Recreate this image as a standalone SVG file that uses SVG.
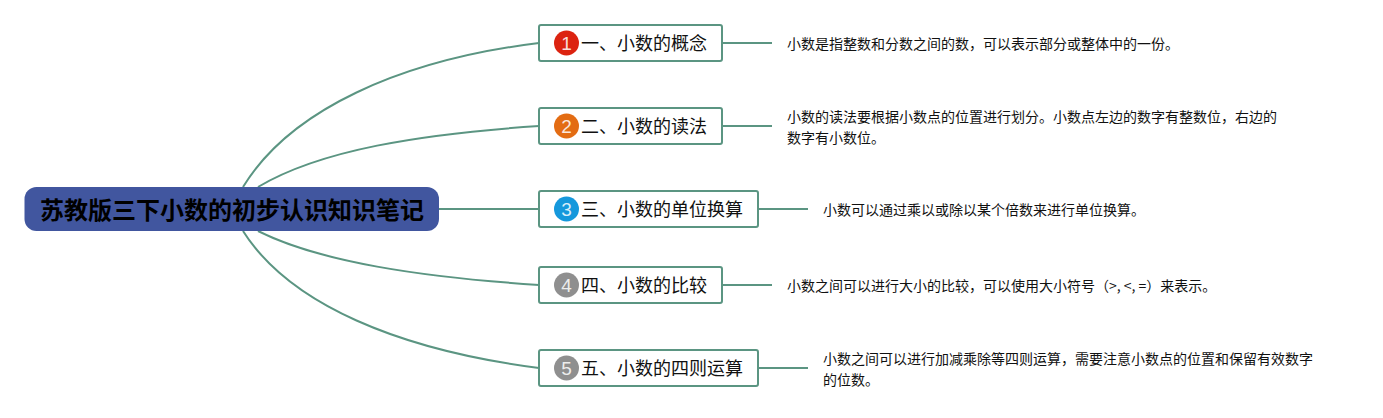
<svg xmlns="http://www.w3.org/2000/svg" width="1383" height="418" viewBox="0 0 1383 418">
<style>
text{font-family:"Noto Sans CJK SC","Liberation Sans",sans-serif;fill:#111}
.c{fill:none;stroke:#5b9582;stroke-width:2}
.b{fill:#fff;stroke:#5b9582;stroke-width:2}
.t{font-size:18px}
.d{font-size:14px}
.r{font-size:24px;font-weight:700;fill:#000}
.n{font-family:"Liberation Sans",Arial,sans-serif;font-size:19px;fill:#fff;fill-opacity:.85;text-anchor:middle}
</style>
<rect width="1383" height="418" fill="#fff"/>
<g id="connectors">
<path class="c" d="M243 187C290 110 400 60 539 43"/>
<path class="c" d="M258 187C320 150 420 134 539 126"/>
<path class="c" d="M439 209H539"/>
<path class="c" d="M258 231C320 262 420 277 539 285"/>
<path class="c" d="M243 231C290 305 400 350 539 368"/>
<path class="c" d="M722 43H772"/>
<path class="c" d="M722 126H772"/>
<path class="c" d="M758 209H808"/>
<path class="c" d="M722 285H772"/>
<path class="c" d="M758 368H808"/>
</g>
<g id="root">
<rect x="24.500" y="187" width="414.500" height="44" rx="12" fill="#41569f"/>
<text class="r" x="40" y="219">苏教版三下小数的初步认识知识笔记</text>
</g>
<g id="n1">
<rect class="b" x="539" y="25" width="183" height="36" rx="2"/>
<circle cx="566.500" cy="43" r="12.500" fill="#dc2310"/>
<text class="n" x="566.500" y="49.500">1</text>
<text class="t" x="581" y="50">一、小数的概念</text>
</g>
<g id="n2">
<rect class="b" x="539" y="108" width="183" height="36" rx="2"/>
<circle cx="566.500" cy="126" r="12.500" fill="#e36c13"/>
<text class="n" x="566.500" y="132.500">2</text>
<text class="t" x="581" y="133">二、小数的读法</text>
</g>
<g id="n3">
<rect class="b" x="539" y="191" width="219" height="36" rx="2"/>
<circle cx="566.500" cy="209" r="12.500" fill="#1598dc"/>
<text class="n" x="566.500" y="215.500">3</text>
<text class="t" x="581" y="216">三、小数的单位换算</text>
</g>
<g id="n4">
<rect class="b" x="539" y="267" width="183" height="36" rx="2"/>
<circle cx="566.500" cy="285" r="12.500" fill="#8f8f8f"/>
<text class="n" x="566.500" y="291.500">4</text>
<text class="t" x="581" y="292">四、小数的比较</text>
</g>
<g id="n5">
<rect class="b" x="539" y="350" width="219" height="36" rx="2"/>
<circle cx="566.500" cy="368" r="12.500" fill="#8f8f8f"/>
<text class="n" x="566.500" y="374.500">5</text>
<text class="t" x="581" y="375">五、小数的四则运算</text>
</g>
<g id="d1"><text class="d" x="787" y="49">小数是指整数和分数之间的数&#xFF0C;可以表示部分或整体中的一份。</text></g>
<g id="d2"><text class="d" x="787" y="122">小数的读法要根据小数点的位置进行划分。小数点左边的数字有整数位&#xFF0C;右边的</text><text class="d" x="787" y="143">数字有小数位。</text></g>
<g id="d3"><text class="d" x="823" y="215">小数可以通过乘以或除以某个倍数来进行单位换算。</text></g>
<g id="d4"><text class="d" x="787" y="291">小数之间可以进行大小的比较&#xFF0C;可以使用大小符号&#xFF08;&gt;, &lt;, =&#xFF09;来表示。</text></g>
<g id="d5"><text class="d" x="823" y="364">小数之间可以进行加减乘除等四则运算&#xFF0C;需要注意小数点的位置和保留有效数字</text><text class="d" x="823" y="385">的位数。</text></g>
</svg>
